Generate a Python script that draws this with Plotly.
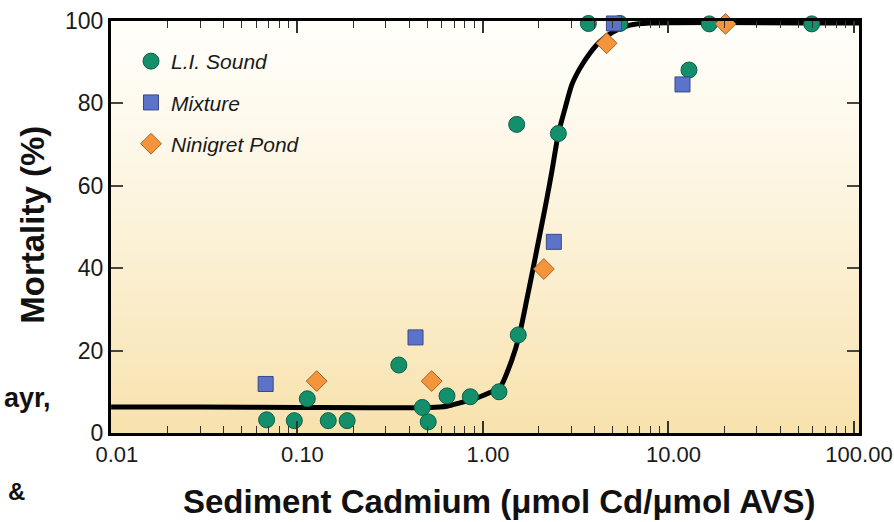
import plotly.graph_objects as go

# Amphipod mortality vs. sediment cadmium normalised to AVS
li_x = [0.0682, 0.0962, 0.113, 0.1466, 0.1853, 0.352, 0.471, 0.507, 0.640, 0.855,
        1.22, 1.55, 1.52, 2.55, 3.70, 5.48, 12.9, 16.6, 59.2]
li_y = [3.2, 3.0, 8.3, 3.0, 3.0, 16.5, 6.2, 2.7, 9.0, 8.8,
        10.0, 23.8, 74.9, 72.7, 99.4, 99.4, 88.1, 99.3, 99.3]

mix_x = [0.0674, 0.433, 2.41, 5.08, 11.9]
mix_y = [11.9, 23.2, 46.4, 99.4, 84.6]

nin_x = [0.127, 0.529, 2.13, 4.64, 20.3]
nin_y = [12.6, 12.6, 39.8, 94.6, 99.3]

# fitted dose-response curve
fit_x = [0.0099, 0.0298, 0.103, 0.518, 0.640, 0.751, 0.851, 0.964, 1.09, 1.24,
         1.43, 1.57, 1.72, 1.87, 2.03, 2.20, 2.35, 2.55, 2.77, 3.01,
         3.33, 3.77, 4.27, 5.04, 6.20, 7.94, 107.0]
fit_y = [6.3, 6.3, 6.2, 6.2, 6.5, 7.3, 8.0, 8.8, 9.8, 11.2,
         17.7, 23.7, 32.2, 40.3, 48.4, 56.4, 63.4, 72.7, 78.8, 84.5,
         88.5, 92.2, 95.0, 97.4, 99.0, 99.5, 99.5]

x_tickvals = [0.01, 0.1, 1, 10, 100]
x_ticktext = ["0.01", "0.10", "1.00", "10.00", "100.00"]
x_minor = [m * d for d in (0.01, 0.1, 1, 10) for m in range(2, 10)]
y_tickvals = [0, 20, 40, 60, 80, 100]

SANS = "Liberation Sans, Arial, Helvetica, sans-serif"

fig = go.Figure()

fig.add_trace(go.Scatter(
    x=fit_x, y=fit_y, mode="lines", showlegend=False,
    line=dict(color="black", width=5, shape="spline", smoothing=0.6),
    hoverinfo="skip"))

fig.add_trace(go.Scatter(
    x=li_x, y=li_y, mode="markers", name="<i>L.I. Sound</i>", legendgroup="a",
    marker=dict(symbol="circle", size=16, color="#13906b",
                line=dict(color="#0b5f47", width=1)),
    cliponaxis=False))
fig.add_trace(go.Scatter(
    x=mix_x, y=mix_y, mode="markers", name="<i>Mixture</i>", legendgroup="b",
    marker=dict(symbol="square", size=15, color="#5b73c9",
                line=dict(color="#38478a", width=1)),
    cliponaxis=False))
fig.add_trace(go.Scatter(
    x=nin_x, y=nin_y, mode="markers", name="<i>Ninigret Pond</i>", legendgroup="c",
    marker=dict(symbol="diamond", size=16, color="#f5953b",
                line=dict(color="#a3642a", width=1)),
    cliponaxis=False))

# cream-to-tan vertical gradient behind the data
n = 70
top_c = (255, 254, 249)
bot_c = (248, 226, 173)
for i in range(n):
    t = (i + 0.5) / n
    f = t ** 1.25
    c = tuple(round(top_c[k] + (bot_c[k] - top_c[k]) * f) for k in range(3))
    fig.add_shape(type="rect", xref="x domain", yref="y domain",
                  x0=0, x1=1, y0=1 - (i + 1) / n - 0.002, y1=1 - i / n,
                  fillcolor="rgb(%d,%d,%d)" % c, line_width=0, layer="below")

W, H = 894, 522
L, R, T, B = 111, 35, 21, 88.5
pw, ph = W - L - R, H - T - B


def px(xp):
    return (xp - L) / pw


def py(yp):
    return (H - B - yp) / ph


fig.update_layout(
    width=W, height=H,
    margin=dict(l=L, r=R, t=T, b=B, autoexpand=False),
    paper_bgcolor="white", plot_bgcolor="rgba(0,0,0,0)",
    font=dict(family=SANS, color="#1a1a1a"),
    showlegend=True,
    legend=dict(x=px(131), y=py(41), xanchor="left", yanchor="top",
                bgcolor="rgba(0,0,0,0)", tracegroupgap=11,
                font=dict(family=SANS, size=21, color="#1a1a1a"),
                itemsizing="trace"),
    xaxis=dict(type="log", range=[-2.005, 2.027],
               tickmode="array", tickvals=x_tickvals, ticktext=x_ticktext,
               ticks="inside", ticklen=12, tickwidth=1.5, tickcolor="#333",
               minor=dict(tickmode="array", tickvals=x_minor, ticks="inside",
                          ticklen=7, tickwidth=1.2, tickcolor="#333", showgrid=False),
               showline=True, linewidth=3, linecolor="black", mirror="allticks",
               showgrid=False, zeroline=False, ticklabelshift=5,
               ticklabeloverflow="allow",
               tickfont=dict(family=SANS, size=22, color="#1a1a1a")),
    yaxis=dict(range=[0, 100], tickmode="array", tickvals=y_tickvals,
               ticks="inside", ticklen=12, tickwidth=1.5, tickcolor="#444",
               showline=True, linewidth=3, linecolor="black", mirror="allticks",
               showgrid=False, zeroline=False,
               tickfont=dict(family=SANS, size=23, color="#1a1a1a")),
)

annotations = [
    dict(text="Sediment Cadmium (μmol Cd/μmol AVS)", x=px(499), y=py(502),
         font=dict(family=SANS, size=33, color="#111")),
    dict(text="Mortality (%)", x=px(33), y=py(225), textangle=-90,
         font=dict(family=SANS, size=33, color="#111")),
    dict(text="ayr,", x=px(52), y=py(398), xanchor="right",
         font=dict(family=SANS, size=27, color="#111")),
    dict(text="&", x=px(26), y=py(492), xanchor="right",
         font=dict(family=SANS, size=24, color="#111")),
]
for a in annotations:
    a.setdefault("xanchor", "center")
    a.update(xref="paper", yref="paper", yanchor="middle", showarrow=False,
             borderpad=0)
    a["text"] = "<b>" + a["text"] + "</b>"
fig.update_layout(annotations=annotations)

fig.write_html("out.html")
